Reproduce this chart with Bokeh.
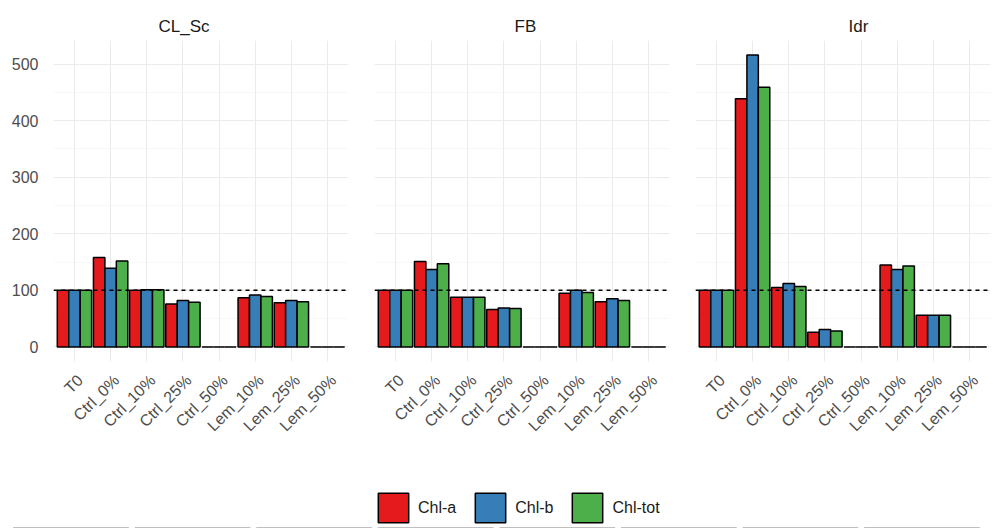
import math
from bokeh.plotting import figure
from bokeh.layouts import row, column
from bokeh.models import (Range1d, Span, SingleIntervalTicker, Legend,
                          LegendItem, ColumnDataSource, LinearAxis, FixedTicker)
from bokeh.transform import dodge
from bokeh.embed import file_html
from bokeh.resources import INLINE

categories = ["T0", "Ctrl_0%", "Ctrl_10%", "Ctrl_25%", "Ctrl_50%", "Lem_10%", "Lem_25%", "Lem_50%"]
panels = ["CL_Sc", "FB", "Idr"]
series = ["Chl-a", "Chl-b", "Chl-tot"]
colors = ["#E41A1C", "#377EB8", "#4DAF4A"]

cl_sc_chla = [100, 158, 100, 76, 0, 87, 78, 0]
cl_sc_chlb = [100, 139, 101, 82, 0, 92, 82, 0]
cl_sc_chltot = [100, 152, 101, 79, 0, 89, 80, 0]

fb_chla = [100, 151, 88, 66, 0, 95, 80, 0]
fb_chlb = [100, 137, 88, 69, 0, 100, 85, 0]
fb_chltot = [100, 147, 88, 68, 0, 96, 82, 0]

idr_chla = [100, 439, 105, 26, 0, 145, 56, 0]
idr_chlb = [100, 516, 112, 31, 0, 137, 56, 0]
idr_chltot = [100, 459, 107, 28, 0, 143, 56, 0]

reference_level = 100
y_ticks_interval = 100

FONT = "Liberation Sans"
GRID = "#EBEBEB"
BW = 0.95 / 3
PAD = 0.58
LABEL_SHIFT = 0.16
HEIGHT = 488
LEG_H = 40


def make_panel(name, a, b, tot, width, left, right, title_offset, show_y):
    n = len(categories)
    idx = list(range(n))
    src = ColumnDataSource(dict(idx=idx, cat=categories, a=a, b=b, tot=tot))
    p = figure(x_range=Range1d(-PAD, n - 1 + PAD),
               y_range=Range1d(-25.8, 541.8),
               width=width, height=HEIGHT, min_border_left=left, min_border_right=right,
               min_border_top=40, min_border_bottom=HEIGHT - 40 - 321,
               toolbar_location=None, output_backend="svg", title=name)
    p.title.text_font = FONT
    p.title.text_font_size = "17px"
    p.title.text_font_style = "normal"
    p.title.text_color = "#1A1A1A"
    p.title.align = "left"
    p.title.offset = title_offset
    p.outline_line_color = None
    p.background_fill_color = "white"

    for col, off, c in zip(["a", "b", "tot"], [-BW, 0, BW], colors):
        p.vbar(x=dodge("idx", off), top=col, bottom=0, width=BW,
               source=src, fill_color=c, line_color="black", line_width=1.5)

    p.add_layout(Span(location=reference_level, dimension="width", line_color="black",
                      line_dash="4 4", line_width=1.5))

    # main axis drives the vertical grid at category centres; labels come from a shifted axis
    p.xaxis.ticker = FixedTicker(ticks=idx)
    p.xaxis.visible = False
    p.extra_x_ranges = {"lab": Range1d(-PAD - LABEL_SHIFT, n - 1 + PAD - LABEL_SHIFT)}
    lab_axis = LinearAxis(x_range_name="lab", ticker=FixedTicker(ticks=idx),
                          major_label_overrides={i: c for i, c in zip(idx, categories)})
    p.add_layout(lab_axis, "below")

    p.yaxis.ticker = SingleIntervalTicker(interval=y_ticks_interval, num_minor_ticks=2)
    for ax in (lab_axis, p.yaxis[0]):
        ax.axis_line_color = None
        ax.major_tick_line_color = None
        ax.minor_tick_line_color = None
        ax.major_label_text_font = FONT
        ax.major_label_text_font_size = "16px"
        ax.major_label_text_color = "#4D4D4D"
    lab_axis.major_label_orientation = math.pi / 4
    lab_axis.major_label_standoff = 10
    p.yaxis.major_label_standoff = 9
    p.yaxis.visible = show_y

    p.xgrid.grid_line_color = GRID
    p.ygrid.grid_line_color = GRID
    p.xgrid.grid_line_width = 1
    p.ygrid.grid_line_width = 1
    p.ygrid.minor_grid_line_color = "#F3F3F3"
    p.ygrid.minor_grid_line_width = 0.6
    return p


p1 = make_panel(panels[0], cl_sc_chla, cl_sc_chlb, cl_sc_chltot, 361, 53, 13, 105, True)
p2 = make_panel(panels[1], fb_chla, fb_chlb, fb_chltot, 321, 13, 13, 140, False)
p3 = make_panel(panels[2], idr_chla, idr_chlb, idr_chltot, 310, 13, 2, 153, False)

# legend strip: its bars use the FB data but lie far below the strip's y-range,
# so only the legend swatches and labels show
fl = figure(width=992, height=LEG_H, min_border=0, toolbar_location=None,
            output_backend="svg", x_range=Range1d(-PAD, len(categories) - 1 + PAD),
            y_range=Range1d(1000, 1001))
fl.axis.visible = False
fl.grid.visible = False
fl.outline_line_color = None
lsrc = ColumnDataSource(dict(idx=list(range(len(categories))), a=fb_chla, b=fb_chlb, tot=fb_chltot))
items = []
for s, col, off, c in zip(series, ["a", "b", "tot"], [-BW, 0, BW], colors):
    r = fl.vbar(x=dodge("idx", off), top=col, bottom=0, width=BW, source=lsrc,
                fill_color=c, line_color="black", line_width=1.5)
    items.append(LegendItem(label=s, renderers=[r]))
leg = Legend(items=items, orientation="horizontal", location=(374, 2),
             glyph_width=38, glyph_height=37, label_standoff=6, spacing=15,
             padding=0, margin=0, border_line_color=None, background_fill_alpha=0,
             label_text_font=FONT, label_text_font_size="16px", label_text_color="#1A1A1A",
             label_height=37)
fl.add_layout(leg, "center")

layout = column(row(p1, p2, p3), fl)
open("out.html", "w").write(file_html(layout, INLINE))
